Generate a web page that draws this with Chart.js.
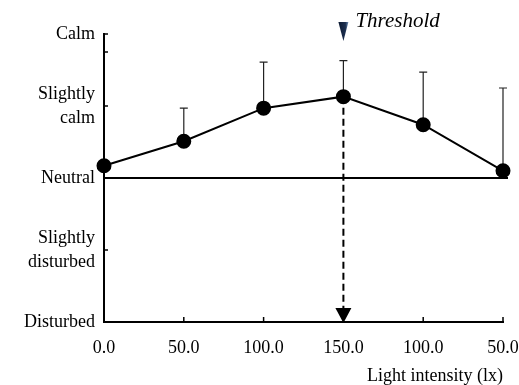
<!DOCTYPE html>
<html>
<head>
<meta charset="utf-8">
<script src="https://cdn.jsdelivr.net/npm/chart.js@4.4.0/dist/chart.umd.min.js"></script>
<style>
html, body { margin: 0; padding: 0; background: #fff; }
</style>
</head>
<body>
<canvas id="chart" width="519" height="385"></canvas>
<script>
// data
var categories = ['0.0', '50.0', '100.0', '150.0', '100.0', '50.0'];
var meanScore = [0.17, 0.51, 0.97, 1.13, 0.74, 0.10];
var errorUp = [0, 0.46, 0.64, 0.50, 0.73, 1.15];
var yLevels = [-2, -1, 0, 1, 2];
var yLabels = ['Disturbed', ['Slightly', 'disturbed'], 'Neutral', ['Slightly', 'calm'], 'Calm'];
var yTickMarks = [2, 1.75, 1, -1];
var thresholdIndex = 3;
var thresholdText = 'Threshold';
var xTitle = 'Light intensity (lx)';

var SERIF = '"Liberation Serif", "Times New Roman", serif';

var decorations = {
    id: 'decorations',
    beforeDatasetsDraw: function(chart) {
        var ctx = chart.ctx;
        var x = chart.scales.x, y = chart.scales.y;
        var area = chart.chartArea;
        ctx.save();

        // neutral line
        ctx.strokeStyle = '#000';
        ctx.lineWidth = 2;
        ctx.beginPath();
        ctx.moveTo(area.left, y.getPixelForValue(0));
        ctx.lineTo(area.right + 5, y.getPixelForValue(0));
        ctx.stroke();

        // tick marks pointing inward
        ctx.lineWidth = 1.5;
        yTickMarks.forEach(function(v) {
            var py = y.getPixelForValue(v);
            ctx.beginPath();
            ctx.moveTo(area.left - 1, py);
            ctx.lineTo(area.left + 4, py);
            ctx.stroke();
        });
        for (var i = 1; i < categories.length; i++) {
            var px = x.getPixelForValue(i);
            ctx.beginPath();
            ctx.moveTo(px, area.bottom);
            ctx.lineTo(px, area.bottom - 5);
            ctx.stroke();
        }

        // upper error bars
        ctx.strokeStyle = '#222';
        ctx.lineWidth = 1.2;
        meanScore.forEach(function(m, i) {
            if (!errorUp[i]) return;
            var px = x.getPixelForValue(i);
            var top = y.getPixelForValue(m + errorUp[i]);
            ctx.beginPath();
            ctx.moveTo(px, y.getPixelForValue(m));
            ctx.lineTo(px, top);
            ctx.moveTo(px - 4, top);
            ctx.lineTo(px + 4, top);
            ctx.stroke();
        });

        // threshold dashed drop line with arrow
        var tx = x.getPixelForValue(thresholdIndex);
        ctx.strokeStyle = '#000';
        ctx.lineWidth = 2;
        ctx.setLineDash([7, 4]);
        ctx.beginPath();
        ctx.moveTo(tx, y.getPixelForValue(meanScore[thresholdIndex]));
        ctx.lineTo(tx, area.bottom - 12);
        ctx.stroke();
        ctx.setLineDash([]);
        ctx.fillStyle = '#000';
        ctx.beginPath();
        ctx.moveTo(tx - 8, area.bottom - 14);
        ctx.lineTo(tx + 8, area.bottom - 14);
        ctx.lineTo(tx, area.bottom + 1);
        ctx.closePath();
        ctx.fill();

        ctx.restore();
    },
    afterDraw: function(chart) {
        var ctx = chart.ctx;
        var x = chart.scales.x;
        var tx = x.getPixelForValue(thresholdIndex);
        ctx.save();
        // threshold marker above the plot
        var grad = ctx.createLinearGradient(tx - 5, 0, tx + 5, 0);
        grad.addColorStop(0, '#0d1a33');
        grad.addColorStop(0.7, '#1d3050');
        grad.addColorStop(1, '#6f8fb8');
        ctx.fillStyle = grad;
        ctx.beginPath();
        ctx.moveTo(tx - 5, 22);
        ctx.lineTo(tx + 5, 22);
        ctx.lineTo(tx, 41);
        ctx.closePath();
        ctx.fill();
        ctx.fillStyle = '#000';
        ctx.font = 'italic 21px ' + SERIF;
        ctx.textBaseline = 'alphabetic';
        ctx.textAlign = 'left';
        ctx.fillText(thresholdText, tx + 12, 27);
        ctx.restore();
    }
};

Chart.defaults.color = '#000';
Chart.defaults.font.family = SERIF;
Chart.defaults.font.size = 18;

new Chart(document.getElementById('chart'), {
    type: 'line',
    data: {
        labels: categories,
        datasets: [{
            data: meanScore,
            borderColor: '#000',
            borderWidth: 2,
            backgroundColor: '#000',
            pointBackgroundColor: '#000',
            pointBorderColor: '#000',
            pointRadius: 6.5,
            tension: 0
        }]
    },
    options: {
        responsive: false,
        animation: false,
        layout: { padding: { left: 0, right: 16, top: 34, bottom: 0 } },
        plugins: {
            legend: { display: false },
            tooltip: { enabled: false }
        },
        scales: {
            x: {
                type: 'category',
                offset: false,
                grid: { drawOnChartArea: false, drawTicks: false },
                border: { display: true, color: '#000', width: 2 },
                ticks: { padding: 15, maxRotation: 0, autoSkip: false, font: { size: 18 } },
                title: {
                    display: true,
                    text: xTitle,
                    align: 'end',
                    font: { size: 18 },
                    padding: { top: 0, bottom: -2 }
                },
                afterFit: function(scale) {
                    scale.height = 63;
                    scale.paddingLeft = 0;
                    scale.paddingRight = 0;
                }
            },
            y: {
                min: -2,
                max: 2,
                grid: { drawOnChartArea: false, drawTicks: false },
                border: { display: true, color: '#000', width: 2 },
                ticks: {
                    stepSize: 1,
                    padding: 9,
                    font: { size: 18, lineHeight: 1.33 },
                    callback: function(value) {
                        var i = yLevels.indexOf(value);
                        return i >= 0 ? yLabels[i] : '';
                    }
                },
                afterFit: function(scale) { scale.width = 104; }
            }
        }
    },
    plugins: [decorations]
});
</script>
</body>
</html>
